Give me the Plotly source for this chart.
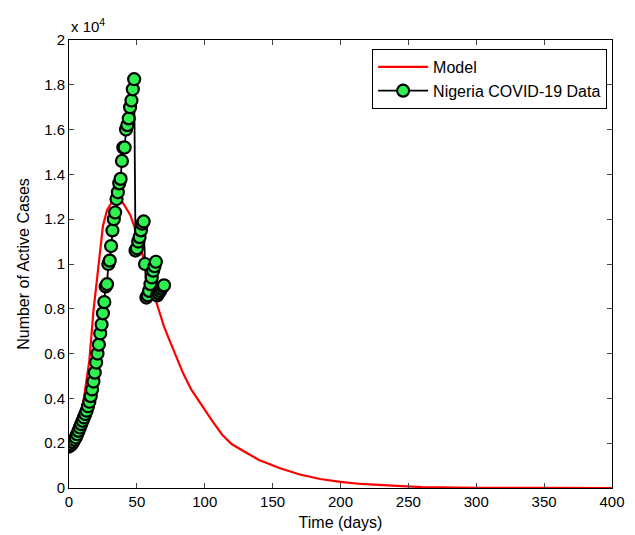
import plotly.graph_objects as go

# Observed data (days, active cases)
data_days = list(range(0, 71))
data_cases = [
    1850, 1900, 1950, 2050, 2150, 2250, 2400, 2550, 2700, 2850,
    3000, 3150, 3300, 3450, 3650, 3850, 4100, 4400, 4750, 5150,
    5600, 6000, 6400, 6900, 7300, 7800, 8300, 9000, 9100, 10000,
    10150, 10800, 11500, 12000, 12300, 12900, 13200, 13600, 13800, 14600,
    15200, 15200, 16000, 16200, 16500, 17000, 17300, 17800, 18250, 10600,
    10700, 11000, 11200, 11500, 11800, 11900, 10000, 8500, 8600, 8800,
    9100, 9400, 9700, 9900, 10100, 8600, 8700, 8800, 8900, 9000,
    9050,
]

# Model curve
model_days = [0, 5, 10, 13, 15, 18, 20, 23, 25, 28, 32, 35, 37, 40, 45, 48,
              52, 56, 60, 65, 70, 74, 80, 84, 90, 99, 106, 113, 120, 131,
              140, 155, 170, 185, 200, 215, 230, 245, 260, 280, 300, 350, 400]
model_cases = [1900, 2500, 3600, 4800, 5700, 7900, 9000, 10900, 11700, 12400,
               12800, 12900, 12900, 12700, 12200, 11700, 10900, 10000, 9200,
               8170, 7200, 6600, 5700, 5130, 4400, 3570, 2950, 2370, 1950,
               1560, 1250, 890, 600, 400, 270, 180, 120, 80, 40, 20, 10, 3, 1]

x_ticks = [0, 50, 100, 150, 200, 250, 300, 350, 400]
y_ticks = [0, 2000, 4000, 6000, 8000, 10000, 12000, 14000, 16000, 18000, 20000]
y_ticktext = ["0", "0.2", "0.4", "0.6", "0.8", "1", "1.2", "1.4", "1.6", "1.8", "2"]

FAM = "Liberation Sans, Arial, sans-serif"

fig = go.Figure()
fig.add_trace(go.Scatter(
    x=model_days, y=model_cases, mode="lines", name="Model",
    line=dict(color="#FF0000", width=2.2),
))
fig.add_trace(go.Scatter(
    x=data_days, y=data_cases, mode="lines+markers",
    name="Nigeria COVID-19 Data",
    line=dict(color="black", width=1.8),
    marker=dict(symbol="circle", size=12, color="#30F050",
                line=dict(color="black", width=2.2)),
))

tick_font = dict(family=FAM, size=15, color="black")
title_font = dict(family=FAM, size=16, color="black")
fig.update_layout(
    width=635, height=535,
    margin=dict(l=69, r=23, t=40, b=47),
    paper_bgcolor="white", plot_bgcolor="white",
    font=tick_font,
    showlegend=True,
    legend=dict(x=0.991, y=0.98, xanchor="right", yanchor="top",
                bordercolor="black", borderwidth=1, bgcolor="white",
                font=dict(family=FAM, size=16, color="black"),
                itemwidth=50, tracegroupgap=2),
    xaxis=dict(range=[0, 400], tickvals=x_ticks, ticks="inside", ticklen=5,
               showline=True, linecolor="black", linewidth=1, mirror="ticks",
               showgrid=False, zeroline=False, tickfont=tick_font,
               automargin=False,
               title=dict(text="Time (days)", standoff=7, font=title_font)),
    yaxis=dict(range=[0, 20000], tickvals=y_ticks, ticktext=y_ticktext,
               ticks="inside", ticklen=5,
               showline=True, linecolor="black", linewidth=1, mirror="ticks",
               showgrid=False, zeroline=False, tickfont=tick_font,
               automargin=False,
               title=dict(text="Number of Active Cases", standoff=10, font=title_font)),
    annotations=[dict(text="x 10<sup>4</sup>", xref="paper", yref="paper",
                      x=0, y=1, xanchor="left", yanchor="bottom", yshift=3,
                      showarrow=False, font=dict(family=FAM, size=15, color="black"))],
)
fig.write_html("out.html")
